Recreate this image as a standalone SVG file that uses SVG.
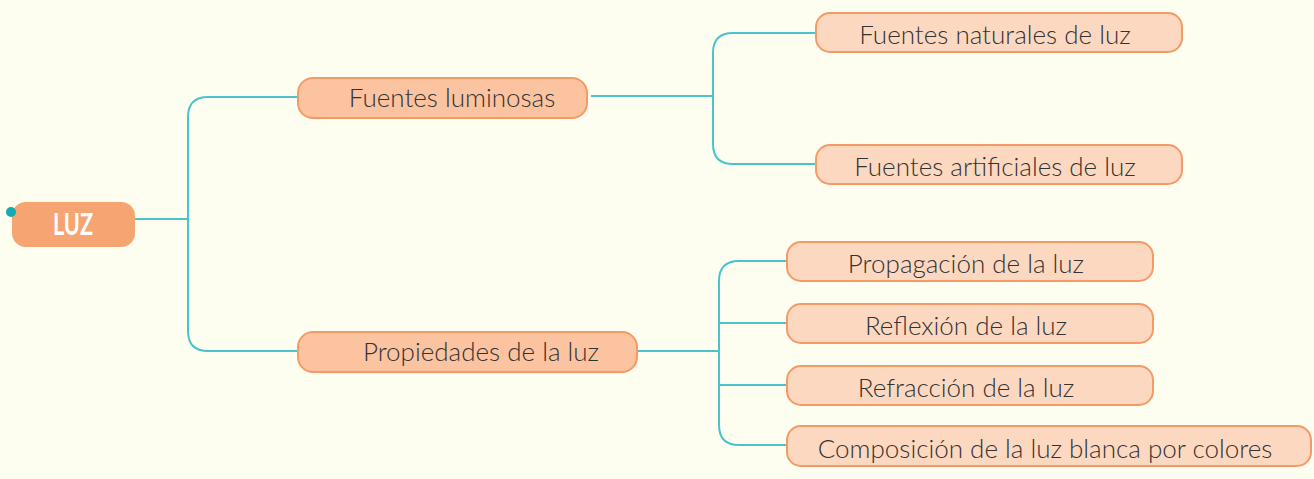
<svg xmlns="http://www.w3.org/2000/svg" width="1314" height="479" viewBox="0 0 1314 479">
<style>
.bg{fill:#FDFDF0}
.conn path{fill:none;stroke:#4CC3CB;stroke-width:2}
.l1 rect{fill:#FCC3A0;stroke:#F49A66;stroke-width:2}
.l2 rect{fill:#FDD8C0;stroke:#F49A66;stroke-width:2}
text{font-family:Lato,"Open Sans","Liberation Sans",sans-serif;font-size:26px;font-weight:300;fill:#333333;text-anchor:middle}
.root text{font-weight:bold;fill:#ffffff;font-size:30px}
</style>
<rect class="bg" x="0" y="0" width="1314" height="479"/>
<g class="conn">
<path d="M135 219 H188"/>
<path d="M298 97 H208 Q188 97 188 117 V331 Q188 351 208 351 H298"/>
<path d="M591 96 H713"/>
<path d="M816 33 H733 Q713 33 713 53 V144 Q713 164 733 164 H816"/>
<path d="M637 351 H719"/>
<path d="M787 261 H739 Q719 261 719 281 V425 Q719 445 739 445 H787"/>
<path d="M719 323 H787"/>
<path d="M719 385 H787"/>
</g>
<g id="root" class="root">
<rect x="12" y="202" width="123" height="45" rx="14" fill="#F7A473"/>
<circle cx="11" cy="212" r="5" fill="#12ABB1"/>
<text x="73" y="235" textLength="40" lengthAdjust="spacingAndGlyphs">LUZ</text>
</g>
<g id="fuentes-luminosas" class="l1">
<rect x="298" y="78" width="289" height="40" rx="15"/>
<text x="452" y="107">Fuentes luminosas</text>
</g>
<g id="propiedades" class="l1">
<rect x="298" y="332" width="339" height="40" rx="15"/>
<text x="481" y="361">Propiedades de la luz</text>
</g>
<g id="naturales" class="l2">
<rect x="816" y="13" width="366" height="39" rx="14"/>
<text x="995" y="44">Fuentes naturales de luz</text>
</g>
<g id="artificiales" class="l2">
<rect x="816" y="145" width="366" height="39" rx="14"/>
<text x="995" y="176">Fuentes artificiales de luz</text>
</g>
<g id="propagacion" class="l2">
<rect x="787" y="242" width="366" height="39" rx="14"/>
<text x="966" y="273">Propagación de la luz</text>
</g>
<g id="reflexion" class="l2">
<rect x="787" y="304" width="366" height="39" rx="14"/>
<text x="966" y="335">Reflexión de la luz</text>
</g>
<g id="refraccion" class="l2">
<rect x="787" y="366" width="366" height="39" rx="14"/>
<text x="966" y="397">Refracción de la luz</text>
</g>
<g id="composicion" class="l2">
<rect x="787" y="426" width="524" height="40" rx="14"/>
<text x="1045" y="458">Composición de la luz blanca por colores</text>
</g>
</svg>
